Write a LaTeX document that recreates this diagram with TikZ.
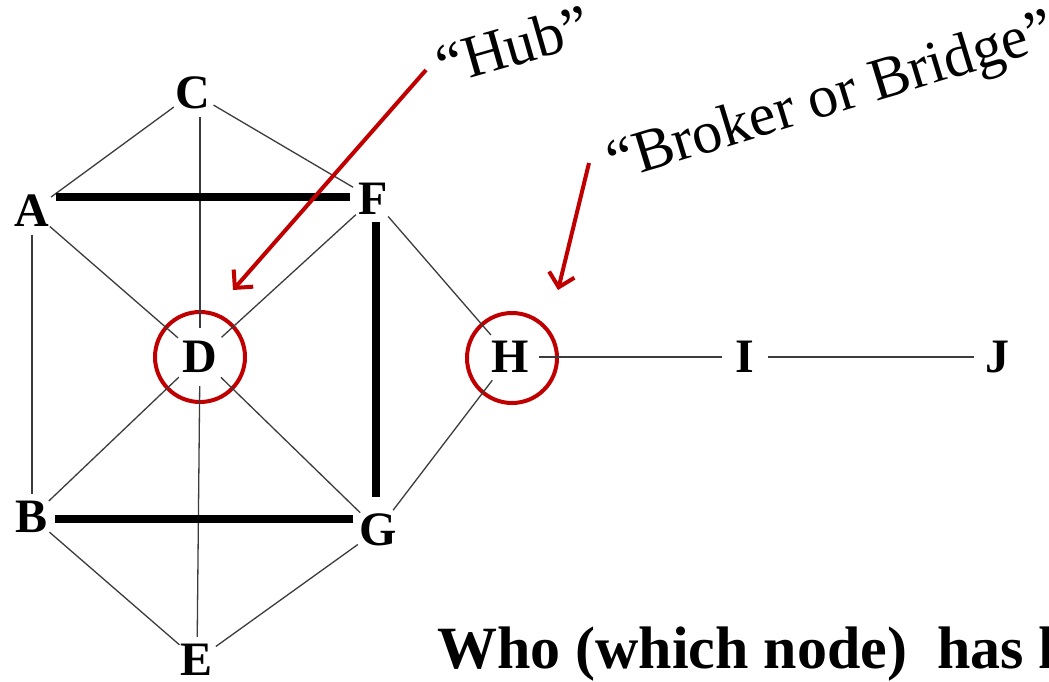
\documentclass[tikz,border=0pt]{standalone}
\usepackage{fontspec}
\setmainfont{Liberation Serif}
\usetikzlibrary{arrows.meta}
\definecolor{ringred}{RGB}{192,0,0}
\definecolor{edgegray}{RGB}{60,60,60}
\begin{document}
\begin{tikzpicture}[x=1pt,y=-1pt,
  vtx/.style={circle, inner sep=0pt, minimum size=46pt, font=\fontsize{48}{50}\selectfont\bfseries},
  bigvtx/.style={vtx, minimum size=58pt},
  edgethin/.style={draw=edgegray, line width=1.3pt},
  edgethick/.style={draw=black, line width=8pt},
  ring/.style={circle, draw=ringred, line width=4pt, minimum size=90pt, inner sep=0pt},
  pointer/.style={draw=ringred, line width=4pt, -{Straight Barb[length=13pt, width=26pt, line width=4pt]}},
  callout/.style={font=\fontsize{60}{60}\selectfont, inner sep=0pt},
  question/.style={font=\fontsize{60}{60}\selectfont\bfseries, inner sep=0pt, anchor=base west}
]
\useasboundingbox (0,0) rectangle (1049,681);
\clip (0,0) rectangle (1049,681);
\fill[white] (0,0) rectangle (1049,681);

% vertices
\node[vtx] (C) at (193,93) {C};
\node[vtx] (A) at (32,211) {A};
\node[vtx] (F) at (373,199) {F};
\node[bigvtx] (D) at (200,357) {D};
\node[bigvtx] (H) at (510,357) {H};
\node[vtx] (I) at (745,357) {I};
\node[vtx] (J) at (997,357) {J};
\node[vtx] (B) at (32,517) {B};
\node[vtx] (G) at (378,530) {G};
\node[vtx] (E) at (197,660) {E};

% rings
\node[ring] (Dring) at (D) {};
\node[ring] (Hring) at (512,358) {};

% thin edges
\draw[edgethin] (C) -- (A);
\draw[edgethin] (C) -- (F);
\draw[edgethin] (C.south -| D.north) -- (D);
\draw[edgethin] (D) -- (E);
\draw[edgethin] (A) -- (B);
\draw[edgethin] (A) -- (D);
\draw[edgethin] (F) -- (D);
\draw[edgethin] (F) -- (H);
\draw[edgethin] (D) -- (B);
\draw[edgethin] (D) -- (G);
\draw[edgethin] (H) -- (G);
\draw[edgethin] (B) -- (E);
\draw[edgethin] (G) -- (E);
\draw[edgethin] (H.east) -- (I.west);
\draw[edgethin] (I.east) -- (J.west);

% thick edges
\draw[edgethick] (A.east |- 0,197) -- (F.west |- 0,197);
\draw[edgethick] (B.east |- 0,519) -- (G.west |- 0,519);
\draw[edgethick] (376,222) coordinate (fg1) -- (376,497) coordinate (fg2);

% callouts
\node[callout, rotate=16] (hub) at (513,45) {“Hub”};
\node[callout, rotate=17] (broker) at (832,100) {“Broker or Bridge”};
\coordinate (hubfrom) at (426,70);
\coordinate (hubto) at (233,290);
\coordinate (brfrom) at (589,163);
\coordinate (brto) at (558,290);
\draw[pointer] (hubfrom) -- (hubto);
\draw[pointer] (brfrom) -- (brto);

% question
\node[question] (q) at (437,668) {Who (which node)\ \ has highest betweenness?};
\end{tikzpicture}
\end{document}
